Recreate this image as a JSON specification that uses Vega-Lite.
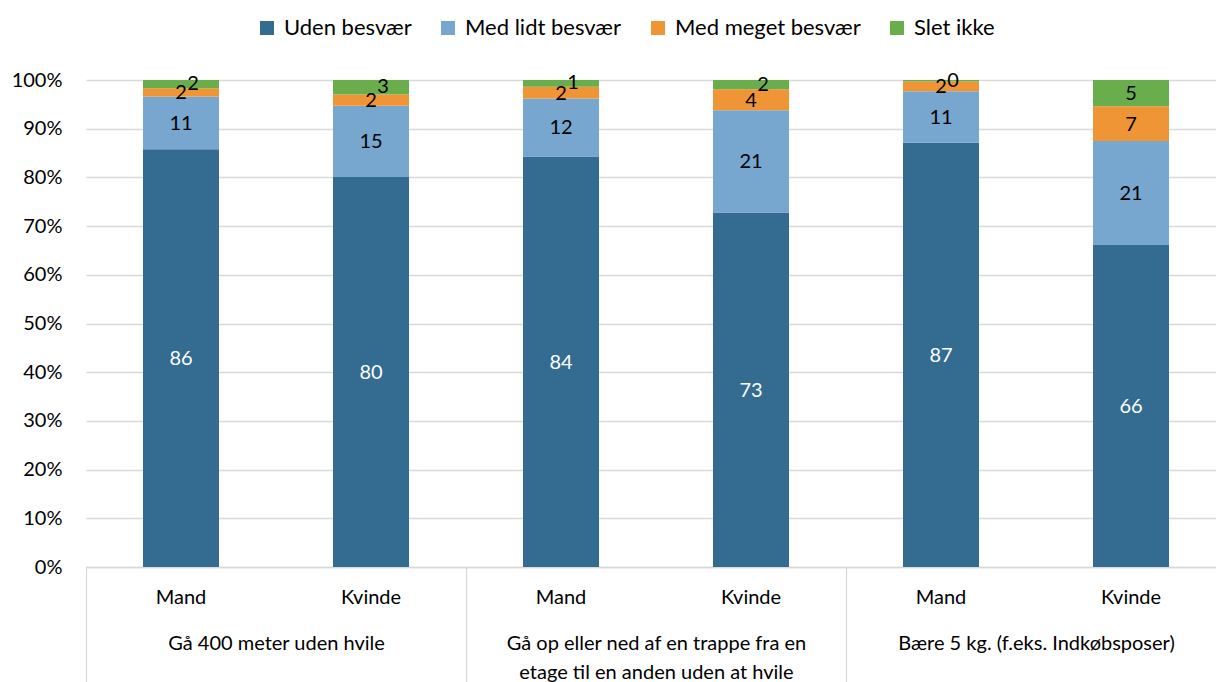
{
  "$schema": "https://vega.github.io/schema/vega-lite/v6.json",
  "autosize": {"type": "none"},
  "padding": {"left": 86, "top": 80, "right": 0, "bottom": 115},
  "width": 1140,
  "height": 487,
  "background": "white",
  "config": {
    "font": "Lato",
    "view": {"stroke": null},
    "axis": {"labelColor": "#000000", "labelFont": "Lato"},
    "legend": {"labelFont": "Lato"}
  },
  "layer": [
    {
      "data": {
        "values": [
          {"group": "Gå 400 meter uden hvile", "pos": "g1 Mand", "series": "Uden besvær", "k": 1, "value": 85.8},
          {"group": "Gå 400 meter uden hvile", "pos": "g1 Mand", "series": "Med lidt besvær", "k": 2, "value": 10.8},
          {"group": "Gå 400 meter uden hvile", "pos": "g1 Mand", "series": "Med meget besvær", "k": 3, "value": 1.7},
          {"group": "Gå 400 meter uden hvile", "pos": "g1 Mand", "series": "Slet ikke", "k": 4, "value": 1.7},
          {"group": "Gå 400 meter uden hvile", "pos": "g1 Kvinde", "series": "Uden besvær", "k": 1, "value": 80.1},
          {"group": "Gå 400 meter uden hvile", "pos": "g1 Kvinde", "series": "Med lidt besvær", "k": 2, "value": 14.6},
          {"group": "Gå 400 meter uden hvile", "pos": "g1 Kvinde", "series": "Med meget besvær", "k": 3, "value": 2.3},
          {"group": "Gå 400 meter uden hvile", "pos": "g1 Kvinde", "series": "Slet ikke", "k": 4, "value": 3.0},
          {"group": "Trappe", "pos": "g2 Mand", "series": "Uden besvær", "k": 1, "value": 84.3},
          {"group": "Trappe", "pos": "g2 Mand", "series": "Med lidt besvær", "k": 2, "value": 11.9},
          {"group": "Trappe", "pos": "g2 Mand", "series": "Med meget besvær", "k": 3, "value": 2.4},
          {"group": "Trappe", "pos": "g2 Mand", "series": "Slet ikke", "k": 4, "value": 1.4},
          {"group": "Trappe", "pos": "g2 Kvinde", "series": "Uden besvær", "k": 1, "value": 72.8},
          {"group": "Trappe", "pos": "g2 Kvinde", "series": "Med lidt besvær", "k": 2, "value": 21.0},
          {"group": "Trappe", "pos": "g2 Kvinde", "series": "Med meget besvær", "k": 3, "value": 4.3},
          {"group": "Trappe", "pos": "g2 Kvinde", "series": "Slet ikke", "k": 4, "value": 1.9},
          {"group": "Bære", "pos": "g3 Mand", "series": "Uden besvær", "k": 1, "value": 87.1},
          {"group": "Bære", "pos": "g3 Mand", "series": "Med lidt besvær", "k": 2, "value": 10.6},
          {"group": "Bære", "pos": "g3 Mand", "series": "Med meget besvær", "k": 3, "value": 2.0},
          {"group": "Bære", "pos": "g3 Mand", "series": "Slet ikke", "k": 4, "value": 0.3},
          {"group": "Bære", "pos": "g3 Kvinde", "series": "Uden besvær", "k": 1, "value": 66.1},
          {"group": "Bære", "pos": "g3 Kvinde", "series": "Med lidt besvær", "k": 2, "value": 21.4},
          {"group": "Bære", "pos": "g3 Kvinde", "series": "Med meget besvær", "k": 3, "value": 7.1},
          {"group": "Bære", "pos": "g3 Kvinde", "series": "Slet ikke", "k": 4, "value": 5.4}
        ]
      },
      "encoding": {
        "x": {
          "field": "pos",
          "type": "nominal",
          "sort": null,
          "scale": {"paddingInner": 0, "paddingOuter": 0},
          "axis": {
            "title": null,
            "ticks": false,
            "domain": false,
            "labelAngle": 0,
            "labelPadding": 20,
            "labelFontSize": 20,
            "labelExpr": "indexof(datum.value, 'Mand') >= 0 ? 'Mand' : 'Kvinde'"
          }
        }
      },
      "layer": [
        {
          "mark": {"type": "bar", "width": 76},
          "encoding": {
            "y": {
              "field": "value",
              "type": "quantitative",
              "stack": "normalize",
              "scale": {"domain": [0, 1]},
              "axis": {
                "title": null,
                "format": ".0%",
                "values": [0, 0.1, 0.2, 0.3, 0.4, 0.5, 0.6, 0.7, 0.8, 0.9, 1],
                "grid": true,
                "gridColor": "#d9d9d9",
                "gridWidth": 1.3,
                "domain": false,
                "ticks": false,
                "labelPadding": 24,
                "labelFontSize": 20
              }
            },
            "color": {
              "field": "series",
              "type": "nominal",
              "scale": {
                "domain": ["Uden besvær", "Med lidt besvær", "Med meget besvær", "Slet ikke"],
                "range": ["#336B91", "#77A6CF", "#F09535", "#6AAD4C"]
              },
              "legend": {
                "title": null,
                "orient": "none",
                "direction": "horizontal",
                "columns": 4,
                "legendX": 170,
                "legendY": -63,
                "padding": 0,
                "symbolType": "square",
                "symbolSize": 196,
                "symbolStrokeWidth": 0,
                "labelFontSize": 22,
                "labelOffset": 6,
                "columnPadding": 25,
                "labelColor": "#000000",
                "labelLimit": 300
              }
            },
            "order": {"field": "k", "type": "quantitative", "sort": "ascending"}
          }
        },
        {
          "mark": {"type": "text", "fontSize": 20, "baseline": "middle", "align": "center", "dy": 1},
          "encoding": {
            "y": {"field": "value", "type": "quantitative", "stack": "normalize", "bandPosition": 0.5},
            "detail": {"field": "series"},
            "order": {"field": "k", "type": "quantitative", "sort": "ascending"},
            "text": {
              "condition": {"test": "datum.series !== 'Slet ikke' || datum.value >= 5", "field": "value", "type": "quantitative", "format": ".0f"},
              "value": ""
            },
            "color": {
              "condition": {"test": "datum.series === 'Uden besvær'", "value": "#ffffff"},
              "value": "#000000"
            }
          }
        },
        {
          "mark": {"type": "text", "fontSize": 20, "baseline": "middle", "align": "center", "dx": 12, "dy": 0},
          "encoding": {
            "y": {"field": "value", "type": "quantitative", "stack": "normalize", "bandPosition": 0.5},
            "detail": {"field": "series"},
            "order": {"field": "k", "type": "quantitative", "sort": "ascending"},
            "text": {
              "condition": {"test": "datum.series === 'Slet ikke' && datum.value < 5", "field": "value", "type": "quantitative", "format": ".0f"},
              "value": ""
            },
            "color": {"value": "#000000"}
          }
        }
      ]
    },
    {
      "data": {
        "values": [
          {"group": "Gå 400 meter uden hvile"},
          {"group": "Gå op eller ned af en trappe fra en etage til en anden uden at hvile"},
          {"group": "Bære 5 kg. (f.eks. Indkøbsposer)"}
        ]
      },
      "mark": {"type": "text", "text": ""},
      "encoding": {
        "x": {
          "field": "group",
          "type": "nominal",
          "scale": {
            "type": "point",
            "padding": 0,
            "domain": ["Gå 400 meter uden hvile", "Gå op eller ned af en trappe fra en etage til en anden uden at hvile", "Bære 5 kg. (f.eks. Indkøbsposer)", " "]
          },
          "axis": {
            "title": null,
            "orient": "bottom",
            "tickSize": 115,
            "tickColor": "#d9d9d9",
            "tickWidth": 1.3,
            "domain": true,
            "domainColor": "#d9d9d9",
            "domainWidth": 1.3,
            "labelAngle": 0,
            "labelOffset": 190,
            "labelPadding": -49,
            "labelBaseline": "top",
            "labelFontSize": 20,
            "labelLineHeight": 29,
            "labelLimit": 400,
            "labelExpr": "indexof(datum.value, 'trappe') >= 0 ? ['Gå op eller ned af en trappe fra en', 'etage til en anden uden at hvile'] : datum.label"
          }
        }
      }
    }
  ],
  "resolve": {"scale": {"x": "independent"}, "axis": {"x": "independent"}}
}
